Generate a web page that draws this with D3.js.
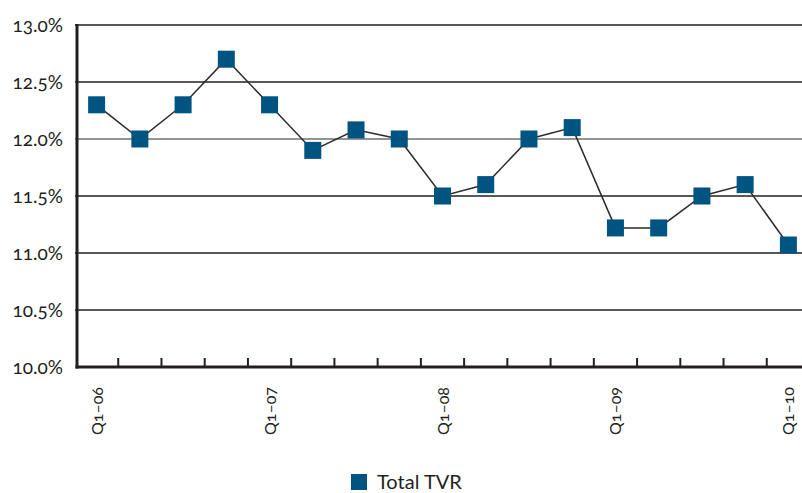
<!DOCTYPE html>
<html>
<head>
<meta charset="utf-8">
<script src="https://cdn.jsdelivr.net/npm/d3@7"></script>
<style>
  html, body { margin: 0; padding: 0; background: #fff; }
  svg { display: block; }
  text { font-family: Lato, "Open Sans", sans-serif; fill: #231f20; font-variant-numeric: oldstyle-nums; }
</style>
</head>
<body>
<svg id="chart" width="802" height="493"></svg>
<script>
// Quarterly total TVR, Q1-06 through Q1-10
const quarters = ["Q1–06","Q2–06","Q3–06","Q4–06","Q1–07","Q2–07","Q3–07","Q4–07",
                  "Q1–08","Q2–08","Q3–08","Q4–08","Q1–09","Q2–09","Q3–09","Q4–09","Q1–10"];
const tvr = [12.3, 12.0, 12.3, 12.7, 12.3, 11.9, 12.08, 12.0,
             11.5, 11.6, 12.0, 12.1, 11.22, 11.22, 11.5, 11.6, 11.07];
const yTicks = [10.0, 10.5, 11.0, 11.5, 12.0, 12.5, 13.0];
const labelledQuarters = ["Q1–06","Q1–07","Q1–08","Q1–09","Q1–10"];
const seriesName = "Total TVR";

const svg = d3.select("#chart");
const plotLeft = 75, plotRight = 810, plotTop = 25, plotBottom = 367;
const navy = "#005482";

const x = d3.scaleBand().domain(quarters).range([plotLeft, plotRight]).padding(0);
const y = d3.scaleLinear().domain([10, 13]).range([plotBottom, plotTop]);
const cx = q => x(q) + x.bandwidth() / 2;

// Horizontal gridlines (12.0% drawn in grey)
svg.append("g").selectAll("line").data(yTicks.filter(v => v > 10)).join("line")
  .attr("x1", plotLeft).attr("x2", 802)
  .attr("y1", d => y(d)).attr("y2", d => y(d))
  .attr("stroke", d => d === 12 ? "#939393" : "#231f20")
  .attr("stroke-width", d => d === 12 ? 2.2 : 1.3);

// Y tick labels
const yAxis = d3.axisLeft(y).tickValues(yTicks).tickSize(0).tickPadding(14)
  .tickFormat(d => d3.format(".1f")(d) + "%");
svg.append("g").attr("transform", `translate(${plotLeft + 2},0)`).call(yAxis)
  .call(g => g.select(".domain").remove())
  .call(g => g.selectAll("text").attr("font-size", 19).style("font-family", "Lato, sans-serif"));

// Axis lines
svg.append("line").attr("x1", plotLeft + 2).attr("x2", plotLeft + 2)
  .attr("y1", plotTop - 1).attr("y2", plotBottom + 1.5)
  .attr("stroke", "#231f20").attr("stroke-width", 3);
svg.append("line").attr("x1", plotLeft + 0.5).attr("x2", 802)
  .attr("y1", plotBottom).attr("y2", plotBottom)
  .attr("stroke", "#231f20").attr("stroke-width", 3);

// Tick marks at quarter boundaries, pointing up
svg.append("g").selectAll("line").data(quarters).join("line")
  .attr("x1", d => x(d) + x.bandwidth()).attr("x2", d => x(d) + x.bandwidth())
  .attr("y1", plotBottom).attr("y2", plotBottom - 9)
  .attr("stroke", "#231f20").attr("stroke-width", 2);

// Rotated quarter labels
svg.append("g").selectAll("text").data(labelledQuarters).join("text")
  .attr("transform", d => `translate(${cx(d) + 6},${plotBottom + 20}) rotate(-90)`)
  .attr("text-anchor", "end")
  .attr("font-size", 16)
  .text(d => d);

// Connecting line
const line = d3.line().x((d, i) => cx(quarters[i])).y(d => y(d));
svg.append("path").datum(tvr)
  .attr("d", line).attr("fill", "none")
  .attr("stroke", "#2b2b2b").attr("stroke-width", 1.5);

// Square markers
const s = 17;
svg.append("g").selectAll("rect").data(tvr).join("rect")
  .attr("x", (d, i) => cx(quarters[i]) - s / 2)
  .attr("y", d => y(d) - s / 2)
  .attr("width", s).attr("height", s)
  .attr("fill", navy);

// Legend
const legend = svg.append("g").attr("transform", "translate(351,474)");
legend.append("rect").attr("width", 16).attr("height", 16).attr("fill", navy);
legend.append("text").attr("x", 26).attr("y", 14.5).attr("font-size", 20).text(seriesName);
</script>
</body>
</html>
